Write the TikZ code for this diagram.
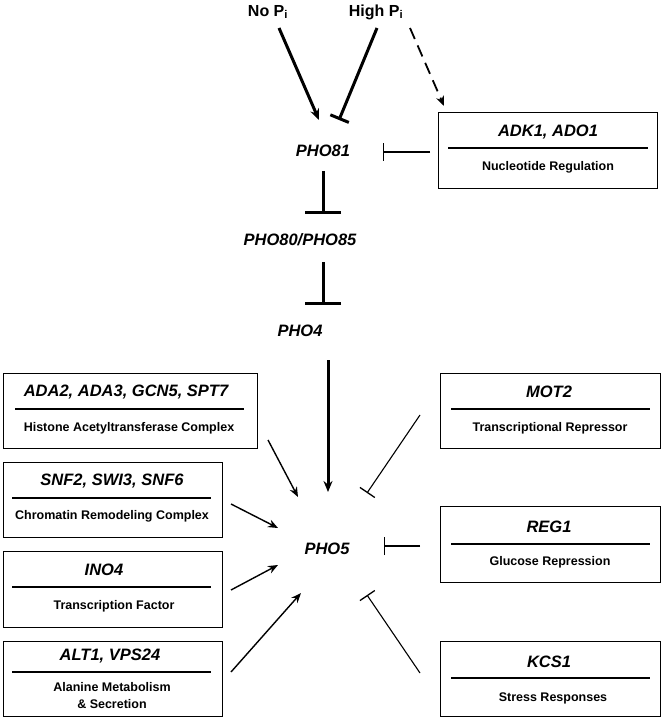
\documentclass[tikz,border=0pt]{standalone}
\usepackage{fontspec}
\setmainfont{Liberation Sans}
\usetikzlibrary{arrows.meta}
\begin{document}
\begin{tikzpicture}[x=1pt,y=-1pt,
  gene/.style={font=\fontsize{16.5}{18}\selectfont\bfseries\itshape},
  lab/.style={font=\fontsize{16}{18}\selectfont\bfseries},
  sub/.style={font=\fontsize{12.5}{17}\selectfont\bfseries,align=center},
  box/.style={draw,line width=1.3pt},
  gb/.style={box,anchor=north west,inner sep=0pt},
  thick act/.style={line width=3pt,-{Stealth[length=11pt,width=9pt]}},
  thick inh/.style={line width=3pt,-{Bar[width=36pt,line width=3pt]}},
  thin act/.style={line width=1.4pt,-{Stealth[length=10pt,width=8pt]}},
  thin inh/.style={line width=1.1pt,-{Bar[width=18pt,line width=1.3pt]}}]
\useasboundingbox (0,0) rectangle (662,719);
\node[lab] (nop) at (268,12) {No P\textsubscript{i}};
\node[lab] (hip) at (376,12) {High P\textsubscript{i}};
\node[gene] (p81) at (323,151) {PHO81};
\node[gene] (p80) at (300,240) {PHO80/PHO85};
\node[gene] (p4) at (300,331) {PHO4};
\node[gene] (p5) at (327,549) {PHO5};
% ADK1
\node[gb,minimum width=219pt,minimum height=76pt] (adk) at (438,112) {};
\draw[line width=1.3pt] (448,148) -- (648,148);
\node[gene] at (548,132) {ADK1, ADO1};
\node[sub] at (548,167) {Nucleotide Regulation};
% left boxes
\node[gb,minimum width=254pt,minimum height=75pt] (b1) at (3,373) {};
\draw[line width=1.3pt] (15,409) -- (244,409);
\node[gene] at (126,392) {ADA2, ADA3, GCN5, SPT7};
\node[sub] at (129,428) {Histone Acetyltransferase Complex};
\node[gb,minimum width=219pt,minimum height=75pt] (b2) at (3,462) {};
\draw[line width=1.3pt] (12,498) -- (211,498);
\node[gene] at (112,481) {SNF2, SWI3, SNF6};
\node[sub] at (112,516) {Chromatin Remodeling Complex};
\node[gb,minimum width=219pt,minimum height=76pt] (b3) at (3,551) {};
\draw[line width=1.3pt] (12,587) -- (211,587);
\node[gene] at (104,570) {INO4};
\node[sub] at (114,606) {Transcription Factor};
\node[gb,minimum width=219pt,minimum height=75pt] (b4) at (3,641) {};
\draw[line width=1.3pt] (12,672) -- (211,672);
\node[gene] at (110,656) {ALT1, VPS24};
\node[sub] at (112,696) {Alanine Metabolism\\\& Secretion};
% right boxes
\node[gb,minimum width=220pt,minimum height=75pt] (m2) at (440,373) {};
\draw[line width=1.3pt] (451,409) -- (650,409);
\node[gene] at (549,392) {MOT2};
\node[sub] at (550,428) {Transcriptional Repressor};
\node[gb,minimum width=220pt,minimum height=76pt] (r1) at (440,506) {};
\draw[line width=1.3pt] (451,544) -- (650,544);
\node[gene] at (549,527) {REG1};
\node[sub] at (550,562) {Glucose Repression};
\node[gb,minimum width=220pt,minimum height=75pt] (k1) at (440,641) {};
\draw[line width=1.3pt] (451,678) -- (650,678);
\node[gene] at (549,662) {KCS1};
\node[sub] at (553,698) {Stress Responses};
% top connectors
\coordinate (a1) at (279,28); \coordinate (a1e) at (319,120);
\coordinate (h1) at (377,28); \coordinate (h1e) at (339,120);
\coordinate (h2) at (410,28); \coordinate (h2e) at (444,106);
\draw[thick act] (a1) -- (a1e);
\draw[line width=3pt,-{Bar[width=20pt,line width=3pt]}] (h1) -- (h1e);
\draw[line width=1.8pt,dash pattern=on 12pt off 7pt,-{Stealth[length=10pt,width=8pt]}] (h2) -- (h2e);
\draw[thin inh] (adk.west |- 0,152) ++(-8,0) -- (383,152);
\draw[thick inh] (323,171) -- (323,214);
\draw[thick inh] (323,262) -- (323,305);
\draw[thick act] (328,360) -- (328,492);
% left arrows
\draw[thin act] (268,440) -- (298,497);
\draw[thin act] (231,504) -- (278,528);
\draw[thin act] (231,590) -- (278,565);
\draw[thin act] (231,672) -- (301,593);
% right inhibitors
\draw[thin inh] (420,415) -- (367,493);
\draw[thin inh] (420,546) -- (384,546);
\draw[thin inh] (420,673) -- (367,595);
\end{tikzpicture}
\end{document}
